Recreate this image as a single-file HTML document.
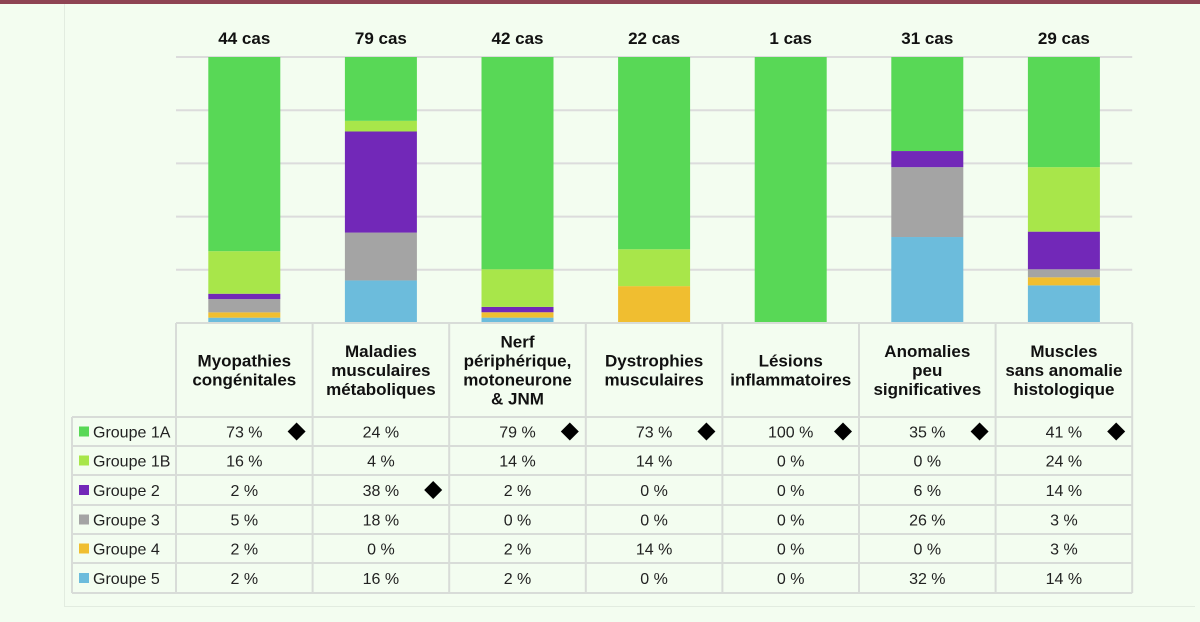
<!DOCTYPE html>
<html><head><meta charset="utf-8"><style>
body{margin:0;width:1200px;height:622px;background:#f3fdf0;position:relative;overflow:hidden;font-family:"Liberation Sans",sans-serif}
.abs{position:absolute}
</style></head><body>
<div class="abs" style="left:0;top:0;width:1200px;height:4px;background:#8e4453"></div>
<div class="abs" style="left:64px;top:4px;width:1130px;height:602px;border-left:1px solid #e2ece0;border-bottom:1px solid #e2ece0"></div>
<svg id="chart" class="abs" style="left:0;top:0" width="1200" height="622"></svg>
<script>
const categories=["Myopathies|congénitales","Maladies|musculaires|métaboliques","Nerf|périphérique,|motoneurone|& JNM","Dystrophies|musculaires","Lésions|inflammatoires","Anomalies|peu|significatives","Muscles|sans anomalie|histologique"];
const caseCounts=[44,79,42,22,1,31,29];
const groups=["Groupe 1A","Groupe 1B","Groupe 2","Groupe 3","Groupe 4","Groupe 5"];
const g1A=[73,24,79,73,100,35,41];
const g1B=[16,4,14,14,0,0,24];
const g2=[2,38,2,0,0,6,14];
const g3=[5,18,0,0,0,26,3];
const g4=[2,0,2,14,0,0,3];
const g5=[2,16,2,0,0,32,14];
const diamonds=[[0,0],[2,1],[0,2],[0,3],[0,4],[0,5],[0,6]];
const colors=["#58d856","#a8e64a","#7228b8","#a4a4a4","#f0be30","#6cbcdc"];
const series=[g1A,g1B,g2,g3,g4,g5];
const svg=document.getElementById('chart');const NS='http://www.w3.org/2000/svg';
function mk(t,a,p){const e=document.createElementNS(NS,t);for(const k in a)e.setAttribute(k,a[k]);(p||svg).appendChild(e);return e;}
const x0=176,cw=136.6,plotTop=57,plotBot=323;
const y=v=>plotBot-(v/100)*(plotBot-plotTop);
const cx=i=>x0+cw*i+cw/2;
for(let t=20;t<=100;t+=20){const l=mk('line',{x1:x0,x2:x0+cw*7,y1:y(t),y2:y(t),stroke:'#dcdcdc','stroke-width':2});

}
categories.forEach((c,i)=>{
 let acc=0;
 let total=0;for(let s=0;s<6;s++)total+=series[s][i];
 for(let s=5;s>=0;s--){const v=series[s][i]*100/total;if(v<=0)continue;
  const r=mk('rect',{x:cx(i)-36,width:72,y:y(acc+v),height:y(acc)-y(acc+v),fill:colors[s]});
  
  
  acc+=v;}
 const t=mk('text',{x:cx(i),y:44,'text-anchor':'middle','font-size':17,'font-weight':'bold',fill:'#111'});t.textContent=caseCounts[i]+' cas';
 
 
});
const rowY=[417,446,475,505,534,563,593];
const gl='#d8dcd8';
mk('line',{x1:x0,x2:x0+cw*7,y1:plotBot,y2:plotBot,stroke:gl,'stroke-width':2});
for(let i=0;i<=7;i++){mk('line',{x1:x0+cw*i,x2:x0+cw*i,y1:plotBot,y2:593,stroke:gl,'stroke-width':2});}
rowY.forEach(yy=>mk('line',{x1:72,x2:x0+cw*7,y1:yy,y2:yy,stroke:gl,'stroke-width':2}));
mk('line',{x1:72,x2:72,y1:417,y2:593,stroke:gl,'stroke-width':2});
categories.forEach((c,i)=>{
 const lines=c.split('|');const lh=19;const start=370-(lines.length-1)*lh/2+6;
 const t=mk('text',{x:cx(i),'text-anchor':'middle','font-size':17,'font-weight':'bold',fill:'#111'});
 
 
 lines.forEach((ln,k)=>{const ts=mk('tspan',{x:cx(i),y:start+k*lh},t);ts.textContent=ln;});
});
groups.forEach((g,s)=>{
 const yc=(rowY[s]+rowY[s+1])/2;
 const sq=mk('rect',{x:79,y:yc-5,width:10,height:10,fill:colors[s]});
 
 
 const t=mk('text',{x:93,y:yc+6,'font-size':16,fill:'#222'});t.textContent=g;
 
 
 categories.forEach((c,i)=>{
  const v=mk('text',{x:cx(i),y:yc+6,'text-anchor':'middle','font-size':16,fill:'#222'});v.textContent=series[s][i]+' %';
  
  
 });
});
diamonds.forEach(([s,i])=>{const yc=(rowY[s]+rowY[s+1])/2;const dx=x0+cw*i+cw-16;
 const d=mk('polygon',{points:`${dx},${yc-9} ${dx+9},${yc} ${dx},${yc+9} ${dx-9},${yc}`,fill:'#000'});
 
 });
</script>
</body></html>
